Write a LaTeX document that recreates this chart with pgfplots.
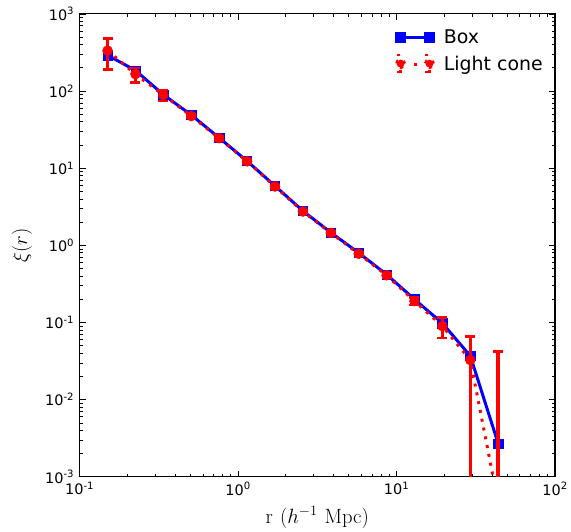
\documentclass[border=0pt]{standalone}
\usepackage[no-math]{fontspec}
\setmainfont{DejaVu Sans}
\usepackage{pgfplots}
\pgfplotsset{compat=1.18}
\usepackage{pgfplotstable}

\pgfplotstableread{
x box
0.15 292
0.225 185
0.3375 90
0.50625 49
0.759 24.8
1.139 12.4
1.709 5.9
2.563 2.8
3.844 1.47
5.767 0.80
8.65 0.42
12.97 0.20
19.46 0.098
29.19 0.037
43.79 0.0027
}\boxdata

\pgfplotstableread{
x lc ep em
0.15 334 143 144
0.225 166 32 36
0.3375 89 15 15
0.50625 47.5 3 3
0.759 24.5 1.5 1.5
1.139 12.3 0.7 0.7
1.709 5.8 0.3 0.3
2.563 2.75 0.12 0.12
3.844 1.45 0.06 0.06
5.767 0.78 0.04 0.04
8.65 0.41 0.025 0.025
12.97 0.19 0.02 0.02
19.46 0.090 0.027 0.027
29.19 0.0327 0.0333 0.03269
43.79 0.00046 0.0418 0.000459
}\lcdata

\pgfplotsset{
 boxleg/.style={legend image code/.code={
   \draw[blue, line width=3pt] (0pt,0pt) -- (29pt,0pt);
   \fill[blue] (-4pt,-4pt) rectangle (4pt,4pt) (25pt,-4pt) rectangle (33pt,4pt);
 }},
 lcleg/.style={legend image code/.code={
   \draw[red, line width=3pt] (14.5pt,-2pt) -- (14.5pt,2pt);
   \draw[red, line width=3.5pt] (0pt,-9pt) -- (0pt,9pt) (29pt,-9pt) -- (29pt,9pt);
   \draw[red, line width=2pt] (-4pt,-8.5pt) -- (4pt,-8.5pt) (-4pt,8.5pt) -- (4pt,8.5pt)
        (25pt,-8.5pt) -- (33pt,-8.5pt) (25pt,8.5pt) -- (33pt,8.5pt);
   \fill[red] (0pt,0pt) circle (4pt) (29pt,0pt) circle (4pt);
 }},
}

\begin{document}
\begin{tikzpicture}
\begin{axis}[
 name=ax,
 scale only axis, width=477.5pt, height=465pt,
 xmode=log, ymode=log,
 xmin=0.1, xmax=100, ymin=1e-3, ymax=1e3,
 xtick={0.1,1,10,100},
 xticklabels={10\textsuperscript{-1},10\textsuperscript{0},10\textsuperscript{1},10\textsuperscript{2}},
 ytick={1e-3,1e-2,1e-1,1,10,100,1000},
 yticklabels={10\textsuperscript{-3},10\textsuperscript{-2},10\textsuperscript{-1},10\textsuperscript{0},10\textsuperscript{1},10\textsuperscript{2},10\textsuperscript{3}},
 minor xtick={0.2,0.3,0.4,0.5,0.6,0.7,0.8,0.9,2,3,4,5,6,7,8,9,20,30,40,50,60,70,80,90},
 minor ytick={0.002,0.003,0.004,0.005,0.006,0.007,0.008,0.009,0.02,0.03,0.04,0.05,0.06,0.07,0.08,0.09,0.2,0.3,0.4,0.5,0.6,0.7,0.8,0.9,2,3,4,5,6,7,8,9,20,30,40,50,60,70,80,90,200,300,400,500,600,700,800,900},
 tick align=inside,
 major tick length=6pt, minor tick length=3pt,
 tick style={black, line width=0.8pt},
 axis line style={line width=1.1pt},
 tick label style={font=\fontsize{14.5}{17}\selectfont},
 yticklabel style={xshift=-2pt},
 xticklabel style={yshift=-2pt},
 label style={font=\fontsize{22}{26}\selectfont},
 xlabel={$\mathrm{r}\ (h^{-1}\ \mathrm{Mpc})$},
 ylabel={$\xi(r)$},
 xlabel style={at={(axis description cs:0.5,-0.088)}, anchor=center},
 ylabel style={at={(axis description cs:-0.1215,0.5)}, anchor=center},
 legend style={at={(0.985,0.975)}, anchor=north east, draw=none, fill=none,
   font=\fontsize{19}{22}\selectfont, row sep=6pt, column sep=7pt},
 legend cell align=left,
 clip marker paths=true,
]
\addplot[blue, line width=3pt, mark=square*, mark size=4.7pt, mark options={solid, line width=0.5pt}, boxleg]
  table[x=x,y=box]{\boxdata};
\addlegendentry{Box}
\addplot[red, line width=3pt, dash pattern=on 3pt off 6pt, mark=*, mark size=5pt, mark options={solid, line width=0.5pt}, lcleg,
  error bars/.cd, y dir=both, y explicit,
  error bar style={line width=3.5pt, solid, red},
  error mark options={rotate=90, red, line width=2.5pt, mark size=5pt, solid}]
  table[x=x,y=lc,y error plus=ep,y error minus=em]{\lcdata};
\addlegendentry{Light cone}
\end{axis}
\path ([xshift=-80pt,yshift=-54pt]ax.south west) rectangle ([xshift=13.5pt,yshift=14pt]ax.north east);
\end{tikzpicture}
\end{document}
